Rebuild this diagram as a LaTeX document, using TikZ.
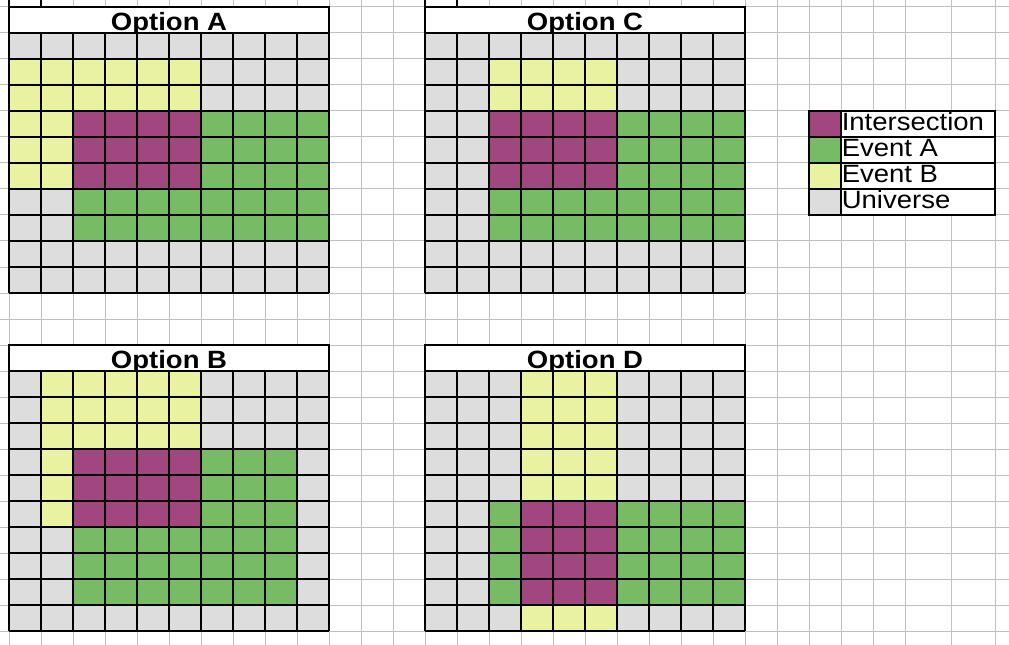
\documentclass[tikz,border=0pt]{standalone}
\usepackage{fontspec}
\setmainfont{Liberation Sans}
\definecolor{cU}{HTML}{DDDDDD}
\definecolor{cA}{HTML}{77BC65}
\definecolor{cB}{HTML}{E8F2A1}
\definecolor{cI}{HTML}{A1467E}
\definecolor{gridgray}{HTML}{C0C0C0}
\tikzset{
  gridline/.style={draw=gridgray,line width=0.75pt},
  cellline/.style={draw=black,line width=0.9pt},
  titletext/.style={font=\fontsize{18.75pt}{20pt}\selectfont\bfseries,inner sep=0pt,xscale=1.1},
  legtext/.style={font=\fontsize{18.75pt}{20pt}\selectfont,inner sep=0pt,xscale=1.1},
}
\newcommand\drawoption[5]{%
  \foreach \row [count=\r from 0] in {#5} {
    \foreach \c [count=\k from 0] in \row {
      \fill[c\c] ({#1+32*\k},{#2+26*\r}) rectangle ++(32,26);
    }
  }
  \foreach \k in {0,...,10} {
    \draw[cellline] ({#1+32*\k},#2) -- ++(0,260);
    \draw[cellline] (#1,{#2+26*\k}) -- ++(320,0);
  }
  \begin{scope}
    \clip (#1,{#2-26}) rectangle ++(320,26);
    \fill[white] (#1,{#2-26}) rectangle ++(320,26);
    \node[titletext,anchor=base] (#4) at ({#1+160},{#2-2.7}) {#3};
  \end{scope}
  \draw[cellline] (#1,{#2-26}) rectangle ++(320,26);
}
\begin{document}
\begin{tikzpicture}[x=0.75pt,y=-0.75pt]
\useasboundingbox (0,0) rectangle (1009,645);
\fill[white] (0,0) rectangle (1009,645);
% spreadsheet grid
\foreach \k in {0,...,24} \draw[gridline] (0,{7+26*\k}) -- (1009,{7+26*\k});
\foreach \xx in {9,41,...,905,951,995} \draw[gridline] (\xx,0) -- (\xx,645);
% small black marks above the titles
\draw[cellline] (9,0) -- (9,7);
\draw[cellline] (41,0) -- (41,7);
\draw[cellline] (425,0) -- (425,7);
\draw[cellline] (457,0) -- (457,7);
% Option A
\drawoption{9}{33}{Option A}{titleA}{
 {U,U,U,U,U,U,U,U,U,U},
 {B,B,B,B,B,B,U,U,U,U},
 {B,B,B,B,B,B,U,U,U,U},
 {B,B,I,I,I,I,A,A,A,A},
 {B,B,I,I,I,I,A,A,A,A},
 {B,B,I,I,I,I,A,A,A,A},
 {U,U,A,A,A,A,A,A,A,A},
 {U,U,A,A,A,A,A,A,A,A},
 {U,U,U,U,U,U,U,U,U,U},
 {U,U,U,U,U,U,U,U,U,U}}
% Option C
\drawoption{425}{33}{Option C}{titleC}{
 {U,U,U,U,U,U,U,U,U,U},
 {U,U,B,B,B,B,U,U,U,U},
 {U,U,B,B,B,B,U,U,U,U},
 {U,U,I,I,I,I,A,A,A,A},
 {U,U,I,I,I,I,A,A,A,A},
 {U,U,I,I,I,I,A,A,A,A},
 {U,U,A,A,A,A,A,A,A,A},
 {U,U,A,A,A,A,A,A,A,A},
 {U,U,U,U,U,U,U,U,U,U},
 {U,U,U,U,U,U,U,U,U,U}}
% Option B
\drawoption{9}{371}{Option B}{titleB}{
 {U,B,B,B,B,B,U,U,U,U},
 {U,B,B,B,B,B,U,U,U,U},
 {U,B,B,B,B,B,U,U,U,U},
 {U,B,I,I,I,I,A,A,A,U},
 {U,B,I,I,I,I,A,A,A,U},
 {U,B,I,I,I,I,A,A,A,U},
 {U,U,A,A,A,A,A,A,A,U},
 {U,U,A,A,A,A,A,A,A,U},
 {U,U,A,A,A,A,A,A,A,U},
 {U,U,U,U,U,U,U,U,U,U}}
% Option D
\drawoption{425}{371}{Option D}{titleD}{
 {U,U,U,B,B,B,U,U,U,U},
 {U,U,U,B,B,B,U,U,U,U},
 {U,U,U,B,B,B,U,U,U,U},
 {U,U,U,B,B,B,U,U,U,U},
 {U,U,U,B,B,B,U,U,U,U},
 {U,U,A,I,I,I,A,A,A,A},
 {U,U,A,I,I,I,A,A,A,A},
 {U,U,A,I,I,I,A,A,A,A},
 {U,U,A,I,I,I,A,A,A,A},
 {U,U,U,B,B,B,U,U,U,U}}
% legend
\foreach \lab/\col [count=\i from 0] in {Intersection/cI,Event A/cA,Event B/cB,Universe/cU} {
  \fill[\col] (809,{111+26*\i}) rectangle ++(32,26);
  \fill[white] (841,{111+26*\i}) rectangle ++(154,26);
  \draw[cellline] (809,{111+26*\i}) rectangle ++(32,26);
  \draw[cellline] (841,{111+26*\i}) rectangle ++(154,26);
  \node[legtext,anchor=base west] (leg\i) at (841.5,{111+26*\i+19.5}) {\lab};
}
\end{tikzpicture}
\end{document}
